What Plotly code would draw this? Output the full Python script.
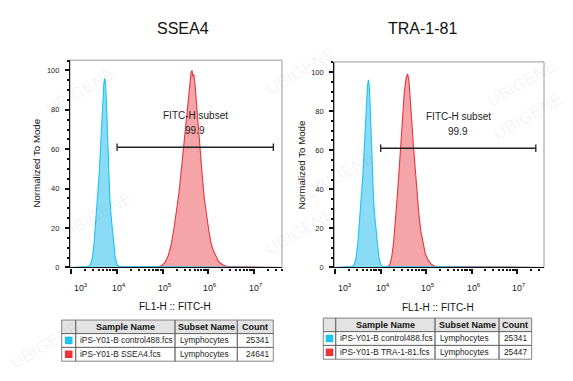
import plotly.graph_objects as go

# ---------------- data ----------------
titles = ["SSEA4", "TRA-1-81"]

# control (cyan) histogram: log10(FITC-H) and normalized-to-mode values
ctrl_lx = [2.97, 3.38, 3.42, 3.46, 3.50, 3.53, 3.57, 3.61, 3.65, 3.68, 3.71, 3.73, 3.75, 3.77,
           3.79, 3.81, 3.84, 3.87, 3.90, 3.93, 3.96, 4.00, 4.04, 7.60]
ctrl_y = [0, 0.5, 1.5, 5, 13, 22, 35, 48, 66, 82, 93, 96, 93, 82,
          66, 49, 36, 26, 18, 11, 5, 1.5, 0.5, 0]

ssea4_lx = [2.97, 4.90, 4.98, 5.05, 5.12, 5.18, 5.24, 5.30, 5.35, 5.40, 5.45, 5.50, 5.55, 5.59, 5.62,
            5.64, 5.66, 5.68, 5.71, 5.75, 5.79, 5.83, 5.87, 5.91, 5.95, 6.00, 6.05, 6.10,
            6.16, 6.22, 6.30, 6.40, 7.60]
ssea4_y = [0, 0.3, 1, 2.5, 6, 11, 19, 28, 37, 48, 60, 73, 85, 94, 99,
           100, 97, 98, 92, 80, 67, 55, 45, 35, 27, 20, 13, 9,
           6, 3, 1.5, 0.5, 0]

tra_lx = [2.97, 4.15, 4.20, 4.24, 4.28, 4.32, 4.36, 4.40, 4.44, 4.48, 4.52, 4.56, 4.59, 4.62,
          4.65, 4.68, 4.72, 4.76, 4.80, 4.84, 4.88, 4.93, 4.98, 5.05, 5.12, 5.20, 7.60]
tra_y = [0, 0.3, 1.5, 5, 12, 22, 35, 48, 63, 78, 90, 97, 99, 96,
         88, 76, 62, 50, 38, 27, 19, 12, 7, 3.5, 1.5, 0.5, 0]

# gate "FITC-H subset"
gate_lx = [[4.0, 7.42], [4.0, 7.41]]
gate_y = 61
gate_label = "FITC-H subset"
gate_value = "99.9"

x_ranges = [[2.97, 7.61], [2.98, 7.59]]
x_tick_exp = [3, 4, 5, 6, 7]
y_ticks = [0, 20, 40, 60, 80, 100]

# legend tables
tbl_header = ["", "Sample Name", "Subset Name", "Count"]
tbl_samples = [["iPS-Y01-B control488.fcs", "iPS-Y01-B SSEA4.fcs"],
               ["iPS-Y01-B control488.fcs", "iPS-Y01-B TRA-1-81.fcs"]]
tbl_subsets = [["Lymphocytes", "Lymphocytes"], ["Lymphocytes", "Lymphocytes"]]
tbl_counts = [["25341", "24641"], ["25341", "25447"]]

# ---------------- style ----------------
FONT = "Arial, Liberation Sans, sans-serif"
CYAN_LINE, CYAN_FILL = "#1cc4ef", "#8adcf6"
RED_LINE, RED_FILL = "#e8333d", "#f5a4a7"
SWATCH = ["#1ec3f0", "#ee3338"]
W, H = 573, 381


def px(x):
    return x / W


def py(y):
    return 1 - y / H


x_domains = [[px(70), px(282)], [px(334.3), px(544)]]
y_domains = [[py(271), py(61)], [py(271), py(62.7)]]
title_pos = [(183, 29), (423, 28.5)]
xtitle_pos = [(174.7, 310.5), (437.5, 311.5)]
ytitle_pos = [(36.7, 165), (301, 167.5)]
# table geometry in pixels: column edges and row edges
tbl_cols = [[61.7, 75.7, 175, 237.3, 273.3], [323.3, 335.7, 435, 499, 531.7]]
tbl_rows = [[324.3, 338, 352, 366], [322.3, 336, 350, 364]]

fig = go.Figure()
red_sets = [(ssea4_lx, ssea4_y), (tra_lx, tra_y)]

for i in range(2):
    xa = "x" if i == 0 else "x2"
    ya = "y" if i == 0 else "y2"
    rlx, ry = red_sets[i]
    fig.add_trace(go.Scatter(x=[10 ** v for v in rlx], y=ry, mode="lines",
                             line=dict(color=RED_LINE, width=1.1),
                             fill="tozeroy", fillcolor=RED_FILL,
                             xaxis=xa, yaxis=ya, showlegend=False, hoverinfo="skip"))
    fig.add_trace(go.Scatter(x=[10 ** v for v in ctrl_lx], y=ctrl_y, mode="lines",
                             line=dict(color=CYAN_LINE, width=1.1),
                             fill="tozeroy", fillcolor=CYAN_FILL,
                             xaxis=xa, yaxis=ya, showlegend=False, hoverinfo="skip"))
    g0, g1 = gate_lx[i]
    fig.add_trace(go.Scatter(
        x=[10 ** g0, 10 ** g1, None, 10 ** g0, 10 ** g0, None, 10 ** g1, 10 ** g1],
        y=[gate_y, gate_y, None, gate_y - 1.9, gate_y + 1.9, None, gate_y - 1.9, gate_y + 1.9],
        mode="lines", line=dict(color="#222222", width=1.3),
        xaxis=xa, yaxis=ya, showlegend=False, hoverinfo="skip"))
    gmid = (g0 + g1) / 2
    fig.add_annotation(x=gmid, y=77, xref=xa, yref=ya, text=gate_label, showarrow=False,
                       xanchor="center", yanchor="middle",
                       font=dict(family=FONT, size=10, color="#222"))
    fig.add_annotation(x=gmid, y=69.5, xref=xa, yref=ya, text=gate_value, showarrow=False,
                       xanchor="center", yanchor="middle",
                       font=dict(family=FONT, size=10, color="#222"))
    # x tick labels (10^n) placed on the log axis
    for e in x_tick_exp:
        fig.add_annotation(x=e, y=py(290.5), xref=xa, yref="paper",
                           text=f"10<sup>{e}</sup>", showarrow=False,
                           xanchor="center", yanchor="middle",
                           xshift=10 if e == x_tick_exp[0] else 2,
                           font=dict(family=FONT, size=8.8, color="#222"))
    # frame
    fig.add_shape(type="rect", xref=f"{xa} domain", yref=f"{ya} domain", x0=0, x1=1, y0=0, y1=1,
                  line=dict(color="#9a9a9a", width=1), layer="below")
    # titles
    tx, ty = title_pos[i]
    fig.add_annotation(x=px(tx), y=py(ty), xref="paper", yref="paper",
                       text=titles[i], showarrow=False, xanchor="center", yanchor="middle",
                       font=dict(family=FONT, size=16, color="#111"))
    tx, ty = xtitle_pos[i]
    fig.add_annotation(x=px(tx), y=py(ty), xref="paper", yref="paper",
                       text="FL1-H :: FITC-H", showarrow=False, xanchor="center", yanchor="middle",
                       font=dict(family=FONT, size=10, color="#111"))
    tx, ty = ytitle_pos[i]
    fig.add_annotation(x=px(tx), y=py(ty), xref="paper", yref="paper",
                       text="Normalized To Mode", showarrow=False, textangle=-90,
                       xanchor="center", yanchor="middle",
                       font=dict(family=FONT, size=9.7, color="#111"))

    # ---- legend table drawn with shapes + annotations ----
    cols = tbl_cols[i]
    rows = tbl_rows[i]
    fig.add_shape(type="rect", xref="paper", yref="paper",
                  x0=px(cols[0]), x1=px(cols[-1]), y0=py(rows[1]), y1=py(rows[0]),
                  line=dict(width=0), fillcolor="#e3e3e3", layer="below")
    for r in range(len(rows) - 1):
        for c in range(len(cols) - 1):
            fig.add_shape(type="rect", xref="paper", yref="paper",
                          x0=px(cols[c]), x1=px(cols[c + 1]), y0=py(rows[r + 1]), y1=py(rows[r]),
                          line=dict(color="#666", width=0.8))
    for c in range(1, 4):
        fig.add_annotation(x=px((cols[c] + cols[c + 1]) / 2), y=py((rows[0] + rows[1]) / 2),
                           xref="paper", yref="paper", text=f"<b>{tbl_header[c]}</b>",
                           showarrow=False, xanchor="center", yanchor="middle",
                           font=dict(family=FONT, size=9, color="#111"))
    for r in range(2):
        yc = py((rows[r + 1] + rows[r + 2]) / 2)
        sx = (cols[0] + cols[1]) / 2
        syc = (rows[r + 1] + rows[r + 2]) / 2
        fig.add_shape(type="rect", xref="paper", yref="paper",
                      x0=px(sx - 3.8), x1=px(sx + 3.8), y0=py(syc + 3.8), y1=py(syc - 3.8),
                      line=dict(width=0), fillcolor=SWATCH[r])
        fig.add_annotation(x=px(cols[1] + 2.5), y=yc, xref="paper", yref="paper",
                           text=tbl_samples[i][r], showarrow=False, xanchor="left", yanchor="middle",
                           font=dict(family=FONT, size=8.3, color="#222"))
        fig.add_annotation(x=px(cols[2] + 2.5), y=yc, xref="paper", yref="paper",
                           text=tbl_subsets[i][r], showarrow=False, xanchor="left", yanchor="middle",
                           font=dict(family=FONT, size=8.3, color="#222"))
        fig.add_annotation(x=px(cols[4] - 2.5), y=yc, xref="paper", yref="paper",
                           text=tbl_counts[i][r], showarrow=False, xanchor="right", yanchor="middle",
                           font=dict(family=FONT, size=8.3, color="#222"))

axis_common = dict(showline=True, linecolor="#111", linewidth=1.2, ticks="outside",
                   tickcolor="#111", showgrid=False, zeroline=False)

for i in range(2):
    sfx = "" if i == 0 else "2"
    fig.update_layout(**{
        f"xaxis{sfx}": dict(axis_common, type="log", range=x_ranges[i], domain=x_domains[i],
                            tickmode="array", tickvals=[10 ** e for e in x_tick_exp],
                            showticklabels=False, ticklen=5, tickwidth=1.5,
                            anchor="y" + sfx,
                            minor=dict(ticks="outside", ticklen=2.5, dtick="D1",
                                       tickcolor="#111", showgrid=False)),
        f"yaxis{sfx}": dict(axis_common, range=[0, 105.2], domain=y_domains[i],
                            tickmode="array", tickvals=y_ticks, ticklen=4, tickwidth=1.8,
                            ticklabelstandoff=4, anchor="x" + sfx,
                            tickfont=dict(family=FONT, size=7.5, color="#222"),
                            minor=dict(ticks="outside", ticklen=2, dtick=5, tickmode="linear",
                                       tick0=0, tickcolor="#111", showgrid=False)),
    })

# faint watermarks
wm = [(80, 93), (97, 218), (300, 72), (522, 85), (340, 178), (45, 350), (300, 235), (528, 118)]
for (wx, wy) in wm:
    fig.add_annotation(x=px(wx), y=py(wy), xref="paper", yref="paper", text="UBIGENE",
                       showarrow=False, textangle=-30, xanchor="center", yanchor="middle",
                       font=dict(family=FONT, size=17, color="rgba(0,0,0,0.06)"))

fig.update_layout(width=W, height=H, margin=dict(l=0, r=0, t=0, b=0),
                  paper_bgcolor="white", plot_bgcolor="white",
                  font=dict(family=FONT))

fig.write_html(
    "out.html", config={"displayModeBar": False},
    post_script=("document.body.style.margin='0';document.body.style.padding='0';"
                 "var d=document.getElementById('{plot_id}');"
                 "d.style.position='fixed';d.style.left='0px';d.style.top='0px';"))
